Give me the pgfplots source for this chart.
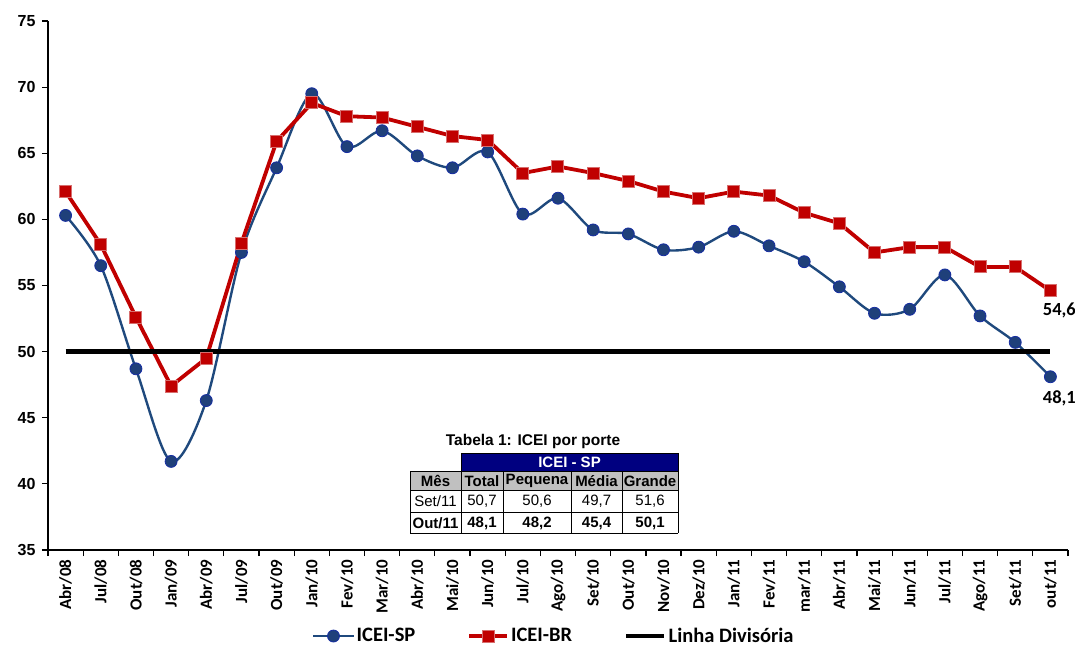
\documentclass[border=0pt]{standalone}
\usepackage{fontspec}
\setmainfont{Liberation Sans}
\newfontfamily\carlito{Carlito}
\usepackage{pgfplots}
\pgfplotsset{compat=1.18}
\definecolor{spblue}{RGB}{31,73,125}
\definecolor{spmark}{RGB}{31,64,122}
\definecolor{brred}{RGB}{192,0,0}
\definecolor{brredlight}{RGB}{215,110,110}
\definecolor{navyhd}{RGB}{0,0,128}
\definecolor{tgrey}{RGB}{192,192,192}

\pgfplotstableread{
i SP BR LD
0 60.3 62.1 50
1 56.5 58.1 50
2 48.7 52.6 50
3 41.7 47.4 50
4 46.3 49.5 50
5 57.5 58.2 50
6 63.9 65.9 50
7 69.5 68.8 50
8 65.5 67.8 50
9 66.7 67.7 50
10 64.8 67.0 50
11 63.9 66.3 50
12 65.1 66.0 50
13 60.4 63.5 50
14 61.6 64.0 50
15 59.2 63.5 50
16 58.9 62.9 50
17 57.7 62.1 50
18 57.9 61.6 50
19 59.1 62.1 50
20 58.0 61.8 50
21 56.8 60.5 50
22 54.9 59.7 50
23 52.9 57.5 50
24 53.2 57.9 50
25 55.8 57.9 50
26 52.7 56.4 50
27 50.7 56.4 50
28 48.1 54.6 50
}\datatable

\begin{document}
\begin{tikzpicture}
\begin{axis}[
  scale only axis, width=1020pt, height=529pt,
  xmin=-0.5, xmax=28.5, ymin=35, ymax=75,
  axis x line*=bottom, axis y line*=left,
  axis line style={line width=1.6pt, -},
  ytick={35,40,...,75},
  xtick={0,...,28},
  xticklabels={Abr/08,Jul/08,Out/08,Jan/09,Abr/09,Jul/09,Out/09,Jan/10,Fev/10,Mar/10,Abr/10,Mai/10,Jun/10,Jul/10,Ago/10,Set/10,Out/10,Nov/10,Dez/10,Jan/11,Fev/11,mar/11,Abr/11,Mai/11,Jun/11,Jul/11,Ago/11,Set/11,out/11},
  minor xtick={-0.5,0.5,...,28.5},
  tick align=outside,
  major tick length=6pt, minor tick length=6pt,
  major x tick style={draw=none},
  minor x tick style={line width=1.2pt, black},
  major y tick style={line width=1.2pt, black},
  /pgf/number format/assume math mode=true,
  yticklabel style={font=\bfseries\fontsize{16}{18}\selectfont, xshift=-3pt},
  xticklabel style={font=\carlito\bfseries\fontsize{17}{19}\selectfont, rotate=90, anchor=east, yshift=0pt},
  legend style={at={(0.496,-0.1626)}, anchor=center, draw=none, fill=none,
    font=\carlito\bfseries\fontsize{20.5}{22}\selectfont, legend columns=3,
    /tikz/every even column/.append style={column sep=50pt},
    nodes={inner xsep=2pt}},
  clip=false,
]
\addplot[spblue, line width=2.4pt, smooth, tension=0.5,
  mark=*, mark size=6pt, mark options={fill=spmark, draw=spmark!70!blue, line width=0.8pt},
  legend image code/.code={\draw[mark repeat=2,mark phase=2] plot coordinates {(0pt,0pt) (20pt,0pt) (40pt,0pt)};}]
  table[x=i, y=SP] {\datatable};
\addlegendentry{ICEI-SP}
\addplot[brred, line width=3.8pt,
  mark=square*, mark size=6pt, mark options={fill=brred, draw=brredlight, line width=1pt, solid},
  legend image code/.code={\draw[mark repeat=2,mark phase=2] plot coordinates {(0pt,0pt) (19pt,0pt) (38pt,0pt)};}]
  table[x=i, y=BR] {\datatable};
\addlegendentry{ICEI-BR}
\addplot[black, line width=4.5pt, no marks,
  legend image code/.code={\draw (0pt,0pt) -- (38pt,0pt);}]
  table[x=i, y=LD] {\datatable};
\addlegendentry{Linha Divisória}
\node[font=\carlito\bfseries\fontsize{18.5}{20}\selectfont, xshift=9pt, yshift=-20pt] at (axis cs:28,54.6) {54,6};
\node[font=\carlito\bfseries\fontsize{18.5}{20}\selectfont, xshift=9pt, yshift=-22pt] at (axis cs:28,48.1) {48,1};
\coordinate (SW) at (rel axis cs:0,0);
\end{axis}
\begin{scope}[shift={(SW)}, xshift=-48pt, yshift=550pt, x=1pt, y=-1pt]
  % table title
  \node[font=\bfseries\fontsize{15.5}{17}\selectfont] at (533,441) {Tabela 1: ICEI por porte};
  % header
  \fill[navyhd] (461,453) rectangle (678,471);
  \draw[line width=0.8pt] (461,453) rectangle (678,471);
  \node[font=\bfseries\fontsize{15}{16}\selectfont, text=white] at (569.5,462) {ICEI - SP};
  % grey row
  \fill[tgrey] (410,471) rectangle (678,490);
  % grid
  \draw[line width=0.8pt] (410,471) -- (678,471);
  \draw[line width=0.8pt] (410,490) -- (678,490);
  \draw[line width=0.8pt] (410,512) -- (678,512);
  \draw[line width=0.8pt] (410,533) -- (678,533);
  \foreach \c in {410,461,503,571,622,678} {\draw[line width=0.8pt] (\c,471) -- (\c,533);}
  % texts
  \begin{scope}[every node/.style={font=\fontsize{15}{16}\selectfont}]
    \node[font=\bfseries\fontsize{15}{16}\selectfont] at (435.5,481) {Mês};
    \node[font=\bfseries\fontsize{15}{16}\selectfont] at (482,481) {Total};
    \node[font=\bfseries\fontsize{15}{16}\selectfont] at (537,481) {Pequena};
    \node[font=\bfseries\fontsize{15}{16}\selectfont] at (596.5,481) {Média};
    \node[font=\bfseries\fontsize{15}{16}\selectfont] at (650,481) {Grande};
    \node at (435.5,501.5) {Set/11};
    \node at (482,501.5) {50,7};
    \node at (537,501.5) {50,6};
    \node at (596.5,501.5) {49,7};
    \node at (650,501.5) {51,6};
    \node[font=\bfseries\fontsize{15}{16}\selectfont] at (435.5,523) {Out/11};
    \node[font=\bfseries\fontsize{15}{16}\selectfont] at (482,523) {48,1};
    \node[font=\bfseries\fontsize{15}{16}\selectfont] at (537,523) {48,2};
    \node[font=\bfseries\fontsize{15}{16}\selectfont] at (596.5,523) {45,4};
    \node[font=\bfseries\fontsize{15}{16}\selectfont] at (650,523) {50,1};
  \end{scope}
  \pgfresetboundingbox
  \path[use as bounding box] (0,0) rectangle (1075,646);
\end{scope}
\end{tikzpicture}
\end{document}
